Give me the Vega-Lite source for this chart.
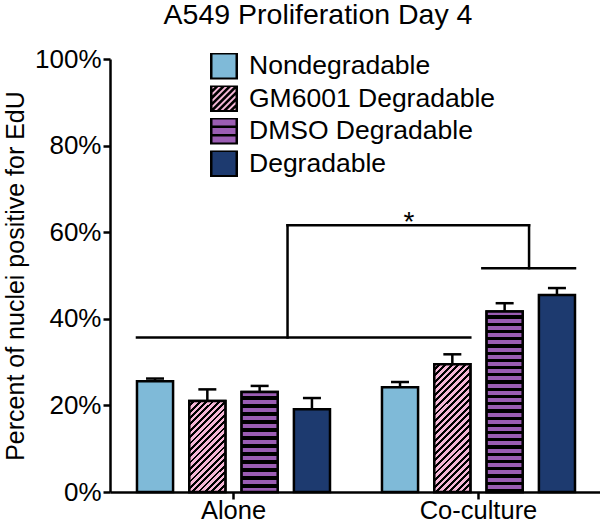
{
  "$schema": "https://vega.github.io/schema/vega-lite/v6.json",
  "width": 490,
  "height": 433,
  "autosize": {"type": "none"},
  "padding": {"left": 110, "top": 59, "right": 0, "bottom": 31},
  "background": "white",
  "title": {"text": "A549 Proliferation Day 4", "fontSize": 28.5, "font": "Liberation Sans", "fontWeight": "normal", "color": "#000", "anchor": "middle", "dx": -37, "offset": 17},
  "datasets": {
    "bars": [
      {"group": "Alone", "treatment": "Nondegradable", "pct": 25.6, "upper": 26.2},
      {"group": "Alone", "treatment": "GM6001 Degradable", "pct": 21.0, "upper": 23.7},
      {"group": "Alone", "treatment": "DMSO Degradable", "pct": 23.1, "upper": 24.5},
      {"group": "Alone", "treatment": "Degradable", "pct": 19.1, "upper": 21.7},
      {"group": "Co-culture", "treatment": "Nondegradable", "pct": 24.2, "upper": 25.4},
      {"group": "Co-culture", "treatment": "GM6001 Degradable", "pct": 29.5, "upper": 31.8},
      {"group": "Co-culture", "treatment": "DMSO Degradable", "pct": 41.7, "upper": 43.6},
      {"group": "Co-culture", "treatment": "Degradable", "pct": 45.5, "upper": 47.1}
    ]
  },
  "layer": [
    {
      "data": {"name": "bars"},
      "mark": {"type": "bar", "stroke": "#000", "strokeWidth": 2.5},
      "encoding": {
        "x": {"field": "group", "type": "nominal", "scale": {"domain": ["Alone", "Co-culture"], "paddingInner": 0.2122, "paddingOuter": 0.1061, "align": 0.519}, "axis": {"title": null, "labelAngle": 0, "grid": false, "labelPadding": -1, "labelFontSize": 25.5}},
        "xOffset": {"field": "treatment", "type": "nominal", "scale": {"domain": ["Nondegradable", "GM6001 Degradable", "DMSO Degradable", "Degradable"], "paddingInner": 0.31, "paddingOuter": 0}},
        "y": {"field": "pct", "type": "quantitative", "scale": {"domain": [0, 100], "nice": false}, "axis": {"values": [0, 20, 40, 60, 80, 100], "labelExpr": "datum.value + '%'", "title": "Percent of nuclei positive for EdU", "titlePadding": 6, "grid": false, "labelPadding": 2}},
        "fill": {
          "field": "treatment", "type": "nominal",
          "scale": {"domain": ["Nondegradable", "GM6001 Degradable", "DMSO Degradable", "Degradable"], "range": ["#7fbad8", "#f4b6d6", "#9b5db3", "#1d3a6f"]},
          "legend": {
            "orient": "none", "legendX": 100, "legendY": -6, "title": null, "symbolType": "square", "symbolSize": 650, "symbolOpacity": 1,
            "symbolStrokeColor": "#000", "symbolStrokeWidth": 2.5, "labelFontSize": 26.5, "labelFont": "Liberation Sans", "labelColor": "#000",
            "labelOffset": 11, "rowPadding": 5.5, "clipHeight": 26, "padding": 0, "labelLimit": 400
          }
        }
      }
    },
    {
      "data": {"name": "bars"},
      "mark": {"type": "point", "filled": true, "stroke": "#000", "strokeWidth": 2.5},
      "encoding": {
        "x": {"field": "group", "type": "nominal"},
        "y": {"field": "pct", "type": "quantitative"},
        "fill": {"field": "treatment", "type": "nominal"},
        "shape": {
          "field": "treatment", "type": "nominal",
          "scale": {"domain": ["Nondegradable", "GM6001 Degradable", "DMSO Degradable", "Degradable"], "range": [
            "square",
            "M-1,-1H1V1H-1Z M-1,-0.5L-0.5,-1 M-1,0L0,-1 M-1,0.5L0.5,-1 M-1,1L1,-1 M-0.5,1L1,-0.5 M0,1L1,0 M0.5,1L1,0.5",
            "M-1,-1H1V1H-1Z M-1,-0.33H1 M-1,0.33H1",
            "square"
          ]},
          "legend": {
            "orient": "none", "legendX": 100, "legendY": -6, "title": null, "symbolSize": 650, "symbolOpacity": 1,
            "symbolStrokeColor": "#000", "symbolStrokeWidth": 2.5, "labelFontSize": 26.5, "labelFont": "Liberation Sans", "labelColor": "#000",
            "labelOffset": 11, "rowPadding": 5.5, "clipHeight": 26, "padding": 0, "labelLimit": 400
          }
        },
        "opacity": {"value": 0},
        "size": {"value": 0}
      }
    },
    {
      "data": {"name": "bars"},
      "transform": [{"filter": "datum.treatment === 'GM6001 Degradable' && datum.group === 'Alone'"}],
      "mark": {"type": "bar", "stroke": "#000", "strokeWidth": 2.5, "fill": {"gradient": "linear", "x1": 0, "y1": 0, "x2": 0.478, "y2": 1.207, "stops": [
        {"offset": 0, "color": "#f4b6d6"}, {"offset": 0.028, "color": "#f4b6d6"}, {"offset": 0.028, "color": "#000"}, {"offset": 0.05, "color": "#000"},
        {"offset": 0.05, "color": "#f4b6d6"}, {"offset": 0.078, "color": "#f4b6d6"}, {"offset": 0.078, "color": "#000"}, {"offset": 0.1, "color": "#000"},
        {"offset": 0.1, "color": "#f4b6d6"}, {"offset": 0.128, "color": "#f4b6d6"}, {"offset": 0.128, "color": "#000"}, {"offset": 0.15, "color": "#000"},
        {"offset": 0.15, "color": "#f4b6d6"}, {"offset": 0.178, "color": "#f4b6d6"}, {"offset": 0.178, "color": "#000"}, {"offset": 0.2, "color": "#000"},
        {"offset": 0.2, "color": "#f4b6d6"}, {"offset": 0.228, "color": "#f4b6d6"}, {"offset": 0.228, "color": "#000"}, {"offset": 0.25, "color": "#000"},
        {"offset": 0.25, "color": "#f4b6d6"}, {"offset": 0.278, "color": "#f4b6d6"}, {"offset": 0.278, "color": "#000"}, {"offset": 0.3, "color": "#000"},
        {"offset": 0.3, "color": "#f4b6d6"}, {"offset": 0.328, "color": "#f4b6d6"}, {"offset": 0.328, "color": "#000"}, {"offset": 0.35, "color": "#000"},
        {"offset": 0.35, "color": "#f4b6d6"}, {"offset": 0.378, "color": "#f4b6d6"}, {"offset": 0.378, "color": "#000"}, {"offset": 0.4, "color": "#000"},
        {"offset": 0.4, "color": "#f4b6d6"}, {"offset": 0.428, "color": "#f4b6d6"}, {"offset": 0.428, "color": "#000"}, {"offset": 0.45, "color": "#000"},
        {"offset": 0.45, "color": "#f4b6d6"}, {"offset": 0.478, "color": "#f4b6d6"}, {"offset": 0.478, "color": "#000"}, {"offset": 0.5, "color": "#000"},
        {"offset": 0.5, "color": "#f4b6d6"}, {"offset": 0.528, "color": "#f4b6d6"}, {"offset": 0.528, "color": "#000"}, {"offset": 0.55, "color": "#000"},
        {"offset": 0.55, "color": "#f4b6d6"}, {"offset": 0.578, "color": "#f4b6d6"}, {"offset": 0.578, "color": "#000"}, {"offset": 0.6, "color": "#000"},
        {"offset": 0.6, "color": "#f4b6d6"}, {"offset": 0.628, "color": "#f4b6d6"}, {"offset": 0.628, "color": "#000"}, {"offset": 0.65, "color": "#000"},
        {"offset": 0.65, "color": "#f4b6d6"}, {"offset": 0.678, "color": "#f4b6d6"}, {"offset": 0.678, "color": "#000"}, {"offset": 0.7, "color": "#000"},
        {"offset": 0.7, "color": "#f4b6d6"}, {"offset": 0.728, "color": "#f4b6d6"}, {"offset": 0.728, "color": "#000"}, {"offset": 0.75, "color": "#000"},
        {"offset": 0.75, "color": "#f4b6d6"}, {"offset": 0.778, "color": "#f4b6d6"}, {"offset": 0.778, "color": "#000"}, {"offset": 0.8, "color": "#000"},
        {"offset": 0.8, "color": "#f4b6d6"}, {"offset": 0.828, "color": "#f4b6d6"}, {"offset": 0.828, "color": "#000"}, {"offset": 0.85, "color": "#000"},
        {"offset": 0.85, "color": "#f4b6d6"}, {"offset": 0.878, "color": "#f4b6d6"}, {"offset": 0.878, "color": "#000"}, {"offset": 0.9, "color": "#000"},
        {"offset": 0.9, "color": "#f4b6d6"}, {"offset": 0.928, "color": "#f4b6d6"}, {"offset": 0.928, "color": "#000"}, {"offset": 0.95, "color": "#000"},
        {"offset": 0.95, "color": "#f4b6d6"}, {"offset": 0.978, "color": "#f4b6d6"}, {"offset": 0.978, "color": "#000"}, {"offset": 1, "color": "#000"}
      ]}},
      "encoding": {
        "x": {"field": "group", "type": "nominal"},
        "xOffset": {"field": "treatment", "type": "nominal"},
        "y": {"field": "pct", "type": "quantitative"}
      }
    },
    {
      "data": {"name": "bars"},
      "transform": [{"filter": "datum.treatment === 'GM6001 Degradable' && datum.group === 'Co-culture'"}],
      "mark": {"type": "bar", "stroke": "#000", "strokeWidth": 2.5, "fill": {"gradient": "linear", "x1": 0, "y1": 0, "x2": 0.335, "y2": 1.188, "stops": [
        {"offset": 0, "color": "#f4b6d6"}, {"offset": 0.022, "color": "#f4b6d6"}, {"offset": 0.022, "color": "#000"}, {"offset": 0.04, "color": "#000"},
        {"offset": 0.04, "color": "#f4b6d6"}, {"offset": 0.062, "color": "#f4b6d6"}, {"offset": 0.062, "color": "#000"}, {"offset": 0.08, "color": "#000"},
        {"offset": 0.08, "color": "#f4b6d6"}, {"offset": 0.102, "color": "#f4b6d6"}, {"offset": 0.102, "color": "#000"}, {"offset": 0.12, "color": "#000"},
        {"offset": 0.12, "color": "#f4b6d6"}, {"offset": 0.142, "color": "#f4b6d6"}, {"offset": 0.142, "color": "#000"}, {"offset": 0.16, "color": "#000"},
        {"offset": 0.16, "color": "#f4b6d6"}, {"offset": 0.182, "color": "#f4b6d6"}, {"offset": 0.182, "color": "#000"}, {"offset": 0.2, "color": "#000"},
        {"offset": 0.2, "color": "#f4b6d6"}, {"offset": 0.222, "color": "#f4b6d6"}, {"offset": 0.222, "color": "#000"}, {"offset": 0.24, "color": "#000"},
        {"offset": 0.24, "color": "#f4b6d6"}, {"offset": 0.262, "color": "#f4b6d6"}, {"offset": 0.262, "color": "#000"}, {"offset": 0.28, "color": "#000"},
        {"offset": 0.28, "color": "#f4b6d6"}, {"offset": 0.302, "color": "#f4b6d6"}, {"offset": 0.302, "color": "#000"}, {"offset": 0.32, "color": "#000"},
        {"offset": 0.32, "color": "#f4b6d6"}, {"offset": 0.342, "color": "#f4b6d6"}, {"offset": 0.342, "color": "#000"}, {"offset": 0.36, "color": "#000"},
        {"offset": 0.36, "color": "#f4b6d6"}, {"offset": 0.382, "color": "#f4b6d6"}, {"offset": 0.382, "color": "#000"}, {"offset": 0.4, "color": "#000"},
        {"offset": 0.4, "color": "#f4b6d6"}, {"offset": 0.422, "color": "#f4b6d6"}, {"offset": 0.422, "color": "#000"}, {"offset": 0.44, "color": "#000"},
        {"offset": 0.44, "color": "#f4b6d6"}, {"offset": 0.462, "color": "#f4b6d6"}, {"offset": 0.462, "color": "#000"}, {"offset": 0.48, "color": "#000"},
        {"offset": 0.48, "color": "#f4b6d6"}, {"offset": 0.502, "color": "#f4b6d6"}, {"offset": 0.502, "color": "#000"}, {"offset": 0.52, "color": "#000"},
        {"offset": 0.52, "color": "#f4b6d6"}, {"offset": 0.542, "color": "#f4b6d6"}, {"offset": 0.542, "color": "#000"}, {"offset": 0.56, "color": "#000"},
        {"offset": 0.56, "color": "#f4b6d6"}, {"offset": 0.582, "color": "#f4b6d6"}, {"offset": 0.582, "color": "#000"}, {"offset": 0.6, "color": "#000"},
        {"offset": 0.6, "color": "#f4b6d6"}, {"offset": 0.622, "color": "#f4b6d6"}, {"offset": 0.622, "color": "#000"}, {"offset": 0.64, "color": "#000"},
        {"offset": 0.64, "color": "#f4b6d6"}, {"offset": 0.662, "color": "#f4b6d6"}, {"offset": 0.662, "color": "#000"}, {"offset": 0.68, "color": "#000"},
        {"offset": 0.68, "color": "#f4b6d6"}, {"offset": 0.702, "color": "#f4b6d6"}, {"offset": 0.702, "color": "#000"}, {"offset": 0.72, "color": "#000"},
        {"offset": 0.72, "color": "#f4b6d6"}, {"offset": 0.742, "color": "#f4b6d6"}, {"offset": 0.742, "color": "#000"}, {"offset": 0.76, "color": "#000"},
        {"offset": 0.76, "color": "#f4b6d6"}, {"offset": 0.782, "color": "#f4b6d6"}, {"offset": 0.782, "color": "#000"}, {"offset": 0.8, "color": "#000"},
        {"offset": 0.8, "color": "#f4b6d6"}, {"offset": 0.822, "color": "#f4b6d6"}, {"offset": 0.822, "color": "#000"}, {"offset": 0.84, "color": "#000"},
        {"offset": 0.84, "color": "#f4b6d6"}, {"offset": 0.862, "color": "#f4b6d6"}, {"offset": 0.862, "color": "#000"}, {"offset": 0.88, "color": "#000"},
        {"offset": 0.88, "color": "#f4b6d6"}, {"offset": 0.902, "color": "#f4b6d6"}, {"offset": 0.902, "color": "#000"}, {"offset": 0.92, "color": "#000"},
        {"offset": 0.92, "color": "#f4b6d6"}, {"offset": 0.942, "color": "#f4b6d6"}, {"offset": 0.942, "color": "#000"}, {"offset": 0.96, "color": "#000"},
        {"offset": 0.96, "color": "#f4b6d6"}, {"offset": 0.982, "color": "#f4b6d6"}, {"offset": 0.982, "color": "#000"}, {"offset": 1, "color": "#000"}
      ]}},
      "encoding": {
        "x": {"field": "group", "type": "nominal"},
        "xOffset": {"field": "treatment", "type": "nominal"},
        "y": {"field": "pct", "type": "quantitative"}
      }
    },
    {
      "data": {"name": "bars"},
      "transform": [{"filter": "datum.treatment === 'DMSO Degradable' && datum.group === 'Alone'"}],
      "mark": {"type": "bar", "stroke": "#000", "strokeWidth": 2.5, "fill": {"gradient": "linear", "x1": 0, "y1": 0, "x2": 0, "y2": 1, "stops": [
        {"offset": 0, "color": "#9b5db3"}, {"offset": 0.045, "color": "#9b5db3"}, {"offset": 0.045, "color": "#000"}, {"offset": 0.08, "color": "#000"},
        {"offset": 0.08, "color": "#9b5db3"}, {"offset": 0.125, "color": "#9b5db3"}, {"offset": 0.125, "color": "#000"}, {"offset": 0.16, "color": "#000"},
        {"offset": 0.16, "color": "#9b5db3"}, {"offset": 0.205, "color": "#9b5db3"}, {"offset": 0.205, "color": "#000"}, {"offset": 0.24, "color": "#000"},
        {"offset": 0.24, "color": "#9b5db3"}, {"offset": 0.285, "color": "#9b5db3"}, {"offset": 0.285, "color": "#000"}, {"offset": 0.32, "color": "#000"},
        {"offset": 0.32, "color": "#9b5db3"}, {"offset": 0.365, "color": "#9b5db3"}, {"offset": 0.365, "color": "#000"}, {"offset": 0.4, "color": "#000"},
        {"offset": 0.4, "color": "#9b5db3"}, {"offset": 0.445, "color": "#9b5db3"}, {"offset": 0.445, "color": "#000"}, {"offset": 0.48, "color": "#000"},
        {"offset": 0.48, "color": "#9b5db3"}, {"offset": 0.525, "color": "#9b5db3"}, {"offset": 0.525, "color": "#000"}, {"offset": 0.56, "color": "#000"},
        {"offset": 0.56, "color": "#9b5db3"}, {"offset": 0.605, "color": "#9b5db3"}, {"offset": 0.605, "color": "#000"}, {"offset": 0.64, "color": "#000"},
        {"offset": 0.64, "color": "#9b5db3"}, {"offset": 0.685, "color": "#9b5db3"}, {"offset": 0.685, "color": "#000"}, {"offset": 0.72, "color": "#000"},
        {"offset": 0.72, "color": "#9b5db3"}, {"offset": 0.765, "color": "#9b5db3"}, {"offset": 0.765, "color": "#000"}, {"offset": 0.8, "color": "#000"},
        {"offset": 0.8, "color": "#9b5db3"}, {"offset": 0.845, "color": "#9b5db3"}, {"offset": 0.845, "color": "#000"}, {"offset": 0.88, "color": "#000"},
        {"offset": 0.88, "color": "#9b5db3"}, {"offset": 0.925, "color": "#9b5db3"}, {"offset": 0.925, "color": "#000"}, {"offset": 0.96, "color": "#000"},
        {"offset": 0.96, "color": "#9b5db3"}, {"offset": 1, "color": "#9b5db3"}
      ]}},
      "encoding": {
        "x": {"field": "group", "type": "nominal"},
        "xOffset": {"field": "treatment", "type": "nominal"},
        "y": {"field": "pct", "type": "quantitative"}
      }
    },
    {
      "data": {"name": "bars"},
      "transform": [{"filter": "datum.treatment === 'DMSO Degradable' && datum.group === 'Co-culture'"}],
      "mark": {"type": "bar", "stroke": "#000", "strokeWidth": 2.5, "fill": {"gradient": "linear", "x1": 0, "y1": 0, "x2": 0, "y2": 1, "stops": [
        {"offset": 0, "color": "#9b5db3"}, {"offset": 0.022, "color": "#9b5db3"}, {"offset": 0.022, "color": "#000"}, {"offset": 0.04, "color": "#000"},
        {"offset": 0.04, "color": "#9b5db3"}, {"offset": 0.062, "color": "#9b5db3"}, {"offset": 0.062, "color": "#000"}, {"offset": 0.08, "color": "#000"},
        {"offset": 0.08, "color": "#9b5db3"}, {"offset": 0.102, "color": "#9b5db3"}, {"offset": 0.102, "color": "#000"}, {"offset": 0.12, "color": "#000"},
        {"offset": 0.12, "color": "#9b5db3"}, {"offset": 0.142, "color": "#9b5db3"}, {"offset": 0.142, "color": "#000"}, {"offset": 0.16, "color": "#000"},
        {"offset": 0.16, "color": "#9b5db3"}, {"offset": 0.182, "color": "#9b5db3"}, {"offset": 0.182, "color": "#000"}, {"offset": 0.2, "color": "#000"},
        {"offset": 0.2, "color": "#9b5db3"}, {"offset": 0.222, "color": "#9b5db3"}, {"offset": 0.222, "color": "#000"}, {"offset": 0.24, "color": "#000"},
        {"offset": 0.24, "color": "#9b5db3"}, {"offset": 0.262, "color": "#9b5db3"}, {"offset": 0.262, "color": "#000"}, {"offset": 0.28, "color": "#000"},
        {"offset": 0.28, "color": "#9b5db3"}, {"offset": 0.302, "color": "#9b5db3"}, {"offset": 0.302, "color": "#000"}, {"offset": 0.32, "color": "#000"},
        {"offset": 0.32, "color": "#9b5db3"}, {"offset": 0.342, "color": "#9b5db3"}, {"offset": 0.342, "color": "#000"}, {"offset": 0.36, "color": "#000"},
        {"offset": 0.36, "color": "#9b5db3"}, {"offset": 0.382, "color": "#9b5db3"}, {"offset": 0.382, "color": "#000"}, {"offset": 0.4, "color": "#000"},
        {"offset": 0.4, "color": "#9b5db3"}, {"offset": 0.422, "color": "#9b5db3"}, {"offset": 0.422, "color": "#000"}, {"offset": 0.44, "color": "#000"},
        {"offset": 0.44, "color": "#9b5db3"}, {"offset": 0.462, "color": "#9b5db3"}, {"offset": 0.462, "color": "#000"}, {"offset": 0.48, "color": "#000"},
        {"offset": 0.48, "color": "#9b5db3"}, {"offset": 0.502, "color": "#9b5db3"}, {"offset": 0.502, "color": "#000"}, {"offset": 0.52, "color": "#000"},
        {"offset": 0.52, "color": "#9b5db3"}, {"offset": 0.542, "color": "#9b5db3"}, {"offset": 0.542, "color": "#000"}, {"offset": 0.56, "color": "#000"},
        {"offset": 0.56, "color": "#9b5db3"}, {"offset": 0.582, "color": "#9b5db3"}, {"offset": 0.582, "color": "#000"}, {"offset": 0.6, "color": "#000"},
        {"offset": 0.6, "color": "#9b5db3"}, {"offset": 0.622, "color": "#9b5db3"}, {"offset": 0.622, "color": "#000"}, {"offset": 0.64, "color": "#000"},
        {"offset": 0.64, "color": "#9b5db3"}, {"offset": 0.662, "color": "#9b5db3"}, {"offset": 0.662, "color": "#000"}, {"offset": 0.68, "color": "#000"},
        {"offset": 0.68, "color": "#9b5db3"}, {"offset": 0.702, "color": "#9b5db3"}, {"offset": 0.702, "color": "#000"}, {"offset": 0.72, "color": "#000"},
        {"offset": 0.72, "color": "#9b5db3"}, {"offset": 0.742, "color": "#9b5db3"}, {"offset": 0.742, "color": "#000"}, {"offset": 0.76, "color": "#000"},
        {"offset": 0.76, "color": "#9b5db3"}, {"offset": 0.782, "color": "#9b5db3"}, {"offset": 0.782, "color": "#000"}, {"offset": 0.8, "color": "#000"},
        {"offset": 0.8, "color": "#9b5db3"}, {"offset": 0.822, "color": "#9b5db3"}, {"offset": 0.822, "color": "#000"}, {"offset": 0.84, "color": "#000"},
        {"offset": 0.84, "color": "#9b5db3"}, {"offset": 0.862, "color": "#9b5db3"}, {"offset": 0.862, "color": "#000"}, {"offset": 0.88, "color": "#000"},
        {"offset": 0.88, "color": "#9b5db3"}, {"offset": 0.902, "color": "#9b5db3"}, {"offset": 0.902, "color": "#000"}, {"offset": 0.92, "color": "#000"},
        {"offset": 0.92, "color": "#9b5db3"}, {"offset": 0.942, "color": "#9b5db3"}, {"offset": 0.942, "color": "#000"}, {"offset": 0.96, "color": "#000"},
        {"offset": 0.96, "color": "#9b5db3"}, {"offset": 0.982, "color": "#9b5db3"}, {"offset": 0.982, "color": "#000"}, {"offset": 1, "color": "#000"}
      ]}},
      "encoding": {
        "x": {"field": "group", "type": "nominal"},
        "xOffset": {"field": "treatment", "type": "nominal"},
        "y": {"field": "pct", "type": "quantitative"}
      }
    },
    {
      "data": {"name": "bars"},
      "mark": {"type": "rule", "color": "#000", "strokeWidth": 2.5},
      "encoding": {
        "x": {"field": "group", "type": "nominal"},
        "xOffset": {"field": "treatment", "type": "nominal"},
        "y": {"field": "pct", "type": "quantitative"},
        "y2": {"field": "upper"}
      }
    },
    {
      "data": {"name": "bars"},
      "mark": {"type": "tick", "color": "#000", "thickness": 2.5, "size": 18, "opacity": 1, "orient": "horizontal"},
      "encoding": {
        "x": {"field": "group", "type": "nominal"},
        "xOffset": {"field": "treatment", "type": "nominal"},
        "y": {"field": "upper", "type": "quantitative"}
      }
    },
    {
      "data": {"values": [{"from": "Alone", "to": "Co-culture", "level": 35.7}]},
      "mark": {"type": "rule", "color": "#000", "strokeWidth": 2.5, "strokeCap": "square"},
      "encoding": {
        "x": {"field": "from", "type": "nominal", "bandPosition": 0},
        "x2": {"field": "to", "bandPosition": 0.4575},
        "y": {"field": "level", "type": "quantitative"}
      }
    },
    {
      "data": {"values": [{"at": "Alone", "lo": 35.7, "hi": 61.6}]},
      "mark": {"type": "rule", "color": "#000", "strokeWidth": 2.5, "strokeCap": "square"},
      "encoding": {
        "x": {"field": "at", "type": "nominal", "bandPosition": 0.78},
        "y": {"field": "lo", "type": "quantitative"},
        "y2": {"field": "hi"}
      }
    },
    {
      "data": {"values": [{"from": "Alone", "to": "Co-culture", "level": 61.6}]},
      "mark": {"type": "rule", "color": "#000", "strokeWidth": 2.5, "strokeCap": "square"},
      "encoding": {
        "x": {"field": "from", "type": "nominal", "bandPosition": 0.78},
        "x2": {"field": "to", "bandPosition": 0.762},
        "y": {"field": "level", "type": "quantitative"}
      }
    },
    {
      "data": {"values": [{"at": "Co-culture", "lo": 51.7, "hi": 61.6}]},
      "mark": {"type": "rule", "color": "#000", "strokeWidth": 2.5, "strokeCap": "square"},
      "encoding": {
        "x": {"field": "at", "type": "nominal", "bandPosition": 0.762},
        "y": {"field": "lo", "type": "quantitative"},
        "y2": {"field": "hi"}
      }
    },
    {
      "data": {"values": [{"from": "Co-culture", "to": "Co-culture", "level": 51.7}]},
      "mark": {"type": "rule", "color": "#000", "strokeWidth": 2.5, "strokeCap": "square"},
      "encoding": {
        "x": {"field": "from", "type": "nominal", "bandPosition": 0.52},
        "x2": {"field": "to", "bandPosition": 1.0},
        "y": {"field": "level", "type": "quantitative"}
      }
    },
    {
      "data": {"values": [{"at": "Co-culture", "level": 61.6, "label": "*"}]},
      "mark": {"type": "text", "color": "#000", "fontSize": 28, "font": "Liberation Sans", "baseline": "alphabetic", "align": "center", "dy": 6},
      "encoding": {
        "x": {"field": "at", "type": "nominal", "bandPosition": 0.14},
        "y": {"field": "level", "type": "quantitative"},
        "text": {"field": "label"}
      }
    }
  ],
  "config": {
    "view": {"stroke": null},
    "axis": {"domainColor": "#000", "domainWidth": 2.5, "tickColor": "#000", "tickWidth": 2.5, "tickSize": 7, "labelFont": "Liberation Sans", "labelFontSize": 26, "labelColor": "#000", "titleFont": "Liberation Sans", "titleFontSize": 25, "titleFontWeight": "normal", "titleColor": "#000"}
  }
}
